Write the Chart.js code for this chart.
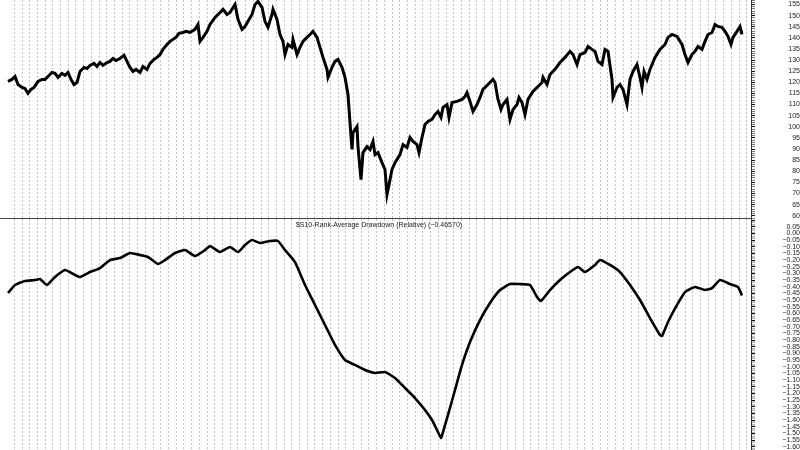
<!DOCTYPE html>
<html>
<head>
<meta charset="utf-8">
<script src="https://cdn.jsdelivr.net/npm/chart.js@4.4.1/dist/chart.umd.min.js"></script>
<style>
  html, body { margin: 0; padding: 0; background: #fff; }
  #pane-price { position: absolute; left: 0; top: 0; width: 800px; height: 220px; }
  #pane-dd { position: absolute; left: 0; top: 219px; width: 800px; height: 231px; }
</style>
</head>
<body>
<div id="pane-price"><canvas id="chart-price"></canvas></div>
<div id="pane-dd"><canvas id="chart-dd"></canvas></div>
<script>
// Bar positions (x) and closes for the upper price pane
const priceX = [
  8, 12, 15, 18, 22, 25, 28, 31, 34, 38,
  42, 45, 48, 52, 55, 58, 62, 65, 68, 71,
  74, 77, 80, 84, 87, 90, 94, 97, 100, 103,
  107, 110, 113, 116, 120, 124, 127, 130, 133, 136,
  140, 143, 147, 150, 154, 157, 160, 163, 167, 170,
  173, 176, 179, 183, 186, 190, 195, 198, 200, 203,
  207, 210, 215, 220, 223, 227, 230, 235, 238, 242,
  245, 248, 252, 255, 258, 262, 265, 268, 272, 273,
  277, 280, 283, 285, 288, 292, 293, 297, 300, 303,
  307, 310, 313, 317, 320, 323, 327, 328, 332, 335,
  338, 342, 345, 348, 350, 352, 353, 357, 358, 361,
  363, 367, 370, 373, 375, 378, 382, 385, 387, 389,
  392, 395, 400, 403, 407, 410, 413, 417, 419, 422,
  425, 428, 432, 435, 438, 441, 443, 447, 449, 452,
  457, 462, 465, 467, 470, 473, 477, 480, 483, 488,
  493, 495, 498, 501, 503, 507, 510, 513, 517, 519,
  522, 525, 528, 533, 538, 542, 543, 547, 550, 555,
  560, 565, 570, 573, 577, 580, 585, 588, 592, 595,
  598, 602, 605, 608, 612, 613, 617, 620, 623, 627,
  630, 633, 637, 640, 642, 644, 647, 650, 655, 660,
  665, 668, 672, 677, 682, 685, 688, 692, 695, 698,
  702, 705, 708, 712, 715, 718, 722, 725, 728, 731,
  733, 737, 740, 742
];
const priceClose = [
  120.4, 121.3, 122.6, 119.0, 117.7, 117.2, 115.0, 116.8, 117.7, 120.4,
  121.3, 121.3, 122.6, 124.4, 124.0, 122.2, 124.0, 123.1, 124.4, 121.3,
  119.0, 119.9, 124.9, 126.7, 126.2, 127.6, 128.5, 127.1, 128.9, 127.6,
  128.9, 129.4, 130.7, 129.8, 130.7, 132.1, 129.4, 126.7, 124.9, 125.8,
  124.4, 127.1, 125.8, 128.5, 130.3, 131.2, 132.5, 134.8, 137.0, 138.4,
  139.3, 140.2, 142.0, 142.4, 142.9, 142.4, 143.8, 146.0, 138.4, 140.2,
  142.9, 146.0, 149.2, 151.4, 152.8, 150.5, 151.4, 155.0, 148.3, 143.8,
  145.1, 147.4, 150.5, 155.0, 156.4, 153.7, 147.4, 144.7, 150.5, 152.8,
  148.3, 141.5, 138.4, 132.5, 137.0, 135.7, 139.3, 132.5, 135.7, 138.4,
  140.2, 141.5, 142.9, 140.2, 135.7, 131.2, 125.8, 122.2, 126.7, 129.4,
  130.3, 126.7, 122.2, 114.5, 101.9, 89.8, 97.4, 100.1, 91.1, 76.3,
  88.4, 91.1, 89.8, 93.4, 87.5, 88.4, 83.9, 80.8, 69.5, 74.0,
  80.8, 83.9, 87.5, 92.0, 90.7, 95.2, 93.4, 92.0, 88.4, 95.2,
  101.0, 102.4, 103.3, 105.5, 106.9, 104.2, 108.7, 110.0, 104.2, 110.9,
  111.4, 112.3, 113.6, 115.4, 111.4, 106.9, 110.0, 113.2, 116.8, 119.0,
  121.3, 119.9, 112.3, 107.8, 110.0, 112.3, 103.3, 107.8, 110.0, 113.2,
  110.9, 105.5, 112.3, 115.9, 118.1, 119.9, 122.2, 119.0, 123.5, 125.8,
  128.9, 131.2, 133.9, 132.5, 128.0, 132.5, 133.4, 136.1, 134.8, 133.9,
  129.4, 128.0, 134.8, 133.9, 121.3, 113.2, 117.7, 119.0, 116.8, 110.0,
  121.3, 124.9, 128.0, 122.2, 117.7, 124.9, 121.3, 125.8, 131.2, 134.8,
  137.0, 140.2, 141.5, 140.6, 137.0, 132.5, 128.9, 132.5, 133.9, 136.1,
  134.8, 138.4, 141.5, 142.4, 146.0, 145.1, 144.7, 142.9, 140.6, 137.0,
  140.2, 142.9, 145.1, 141.5
];

// Lower pane: rank-average drawdown (relative)
const ddX = [
  8, 15, 25, 35, 40, 47, 55, 65, 75, 80,
  90, 100, 110, 120, 130, 140, 148, 158, 165, 175,
  185, 195, 205, 210, 220, 230, 238, 245, 252, 260,
  270, 278, 285, 295, 305, 315, 325, 335, 345, 355,
  365, 375, 385, 395, 405, 415, 425, 432, 437, 441,
  443, 448, 455, 462, 470, 480, 490, 500, 510, 520,
  530, 537, 541, 550, 560, 570, 578, 585, 595, 600,
  610, 620, 630, 640, 650, 660, 662, 668, 677, 685,
  695, 705, 712, 720, 730, 738, 742
];
const ddValue = [
  -0.447, -0.387, -0.357, -0.350, -0.342, -0.387, -0.327, -0.275, -0.312, -0.327,
  -0.290, -0.260, -0.200, -0.185, -0.147, -0.162, -0.177, -0.230, -0.200, -0.147,
  -0.125, -0.170, -0.125, -0.095, -0.140, -0.102, -0.140, -0.087, -0.050, -0.072,
  -0.057, -0.057, -0.125, -0.215, -0.387, -0.537, -0.687, -0.837, -0.950, -0.987,
  -1.025, -1.047, -1.040, -1.085, -1.160, -1.235, -1.325, -1.400, -1.475, -1.535,
  -1.490, -1.362, -1.175, -0.987, -0.815, -0.650, -0.522, -0.425, -0.380, -0.380,
  -0.387, -0.477, -0.507, -0.425, -0.350, -0.290, -0.252, -0.290, -0.237, -0.200,
  -0.237, -0.290, -0.387, -0.500, -0.635, -0.762, -0.770, -0.665, -0.537, -0.440,
  -0.402, -0.425, -0.410, -0.350, -0.380, -0.402, -0.466
];
const ddTitle = '$S10-Rank-Average Drawdown (Relative) (\u22120.46570)';

// Shared look
const axisColor = '#333';
const gridColor = '#c4c4c4';
const fontSettings = { family: "'Liberation Sans', Arial, sans-serif", size: 7 };
const X_MAX = 751;

// vertical dotted time grid, every ~7.7 px starting at bar 14.3
function timeGridTicks(scale) {
  const ticks = [];
  for (let v = 14.3; v < X_MAX; v += 7.71) ticks.push({ value: v });
  scale.ticks = ticks;
}

// no label padding: panes must fill their boxes edge to edge
function noPad(s) {
  s.paddingTop = 0;
  s.paddingBottom = 0;
  s.paddingLeft = 0;
  s.paddingRight = 0;
}

function xAxis(axisHeight, showBorder) {
  return {
    type: 'linear',
    min: 0,
    max: X_MAX,
    afterBuildTicks: timeGridTicks,
    afterFit: s => { s.height = axisHeight; noPad(s); },
    ticks: { display: false },
    grid: { color: gridColor, drawTicks: false, lineWidth: 1 },
    border: { display: showBorder, color: '#444', width: 1, dash: [2, 2] }
  };
}

const fmtDD = v => (v < -1e-9 ? '\u2212' : '') + Math.abs(v).toFixed(2);

// --- 1. Price pane ---
new Chart(document.getElementById('chart-price').getContext('2d'), {
  type: 'line',
  data: {
    datasets: [{
      data: priceX.map((x, i) => ({ x: x, y: priceClose[i] })),
      borderColor: '#000',
      borderWidth: 3,
      pointRadius: 0,
      tension: 0,
      fill: false
    }]
  },
  options: {
    responsive: true,
    maintainAspectRatio: false,
    animation: false,
    layout: { padding: 0 },
    plugins: { legend: { display: false }, tooltip: { enabled: false } },
    scales: {
      x: xAxis(2, true),
      y: {
        position: 'right',
        min: 59,
        max: 157,
        afterFit: s => { s.width = 49; noPad(s); },
        ticks: {
          stepSize: 1,
          autoSkip: false,
          crossAlign: 'far',
          padding: 8,
          color: '#222',
          font: fontSettings,
          callback: v => (v % 5 === 0 ? String(v) : '')
        },
        grid: {
          drawOnChartArea: false,
          tickLength: 4,
          tickColor: ctx => (ctx.tick && ctx.tick.value % 5 === 0 ? '#111' : '#777')
        },
        border: { display: true, color: axisColor, width: 1 }
      }
    }
  }
});

// --- 2. Drawdown pane ---
const ddTitlePlugin = {
  id: 'ddTitle',
  afterDraw(chart) {
    const c = chart.ctx;
    c.save();
    c.fillStyle = '#222';
    c.font = `${fontSettings.size}px ${fontSettings.family}`;
    c.textAlign = 'center';
    c.textBaseline = 'middle';
    c.fillText(ddTitle, 379, 6);
    c.restore();
  }
};

new Chart(document.getElementById('chart-dd').getContext('2d'), {
  type: 'line',
  data: {
    datasets: [{
      data: ddX.map((x, i) => ({ x: x, y: ddValue[i] })),
      borderColor: '#000',
      borderWidth: 2.6,
      pointRadius: 0,
      tension: 0.15,
      fill: false
    }]
  },
  options: {
    responsive: true,
    maintainAspectRatio: false,
    animation: false,
    layout: { padding: 0 },
    plugins: { legend: { display: false }, tooltip: { enabled: false } },
    scales: {
      x: xAxis(0, false),
      y: {
        position: 'right',
        min: -1.625,
        max: 0.108,
        // hundredth steps from -1.62 to 0.10, labelled every 0.05
        afterBuildTicks: s => {
          const ticks = [];
          for (let k = -162; k <= 10; k++) ticks.push({ value: k / 100 });
          s.ticks = ticks;
        },
        afterFit: s => { s.width = 49; noPad(s); },
        ticks: {
          autoSkip: false,
          crossAlign: 'far',
          padding: 1,
          color: '#222',
          font: fontSettings,
          callback: v => {
            const k = Math.round(v * 100);
            return (k % 5 === 0 && k <= 5) ? fmtDD(k / 100) : '';
          }
        },
        grid: {
          drawOnChartArea: false,
          tickLength: 4,
          tickColor: ctx => (ctx.tick && Math.round(ctx.tick.value * 100) % 5 === 0 ? '#111' : 'rgba(0,0,0,0.25)')
        },
        border: { display: true, color: axisColor, width: 1 }
      }
    }
  },
  plugins: [ddTitlePlugin]
});
</script>
</body>
</html>
